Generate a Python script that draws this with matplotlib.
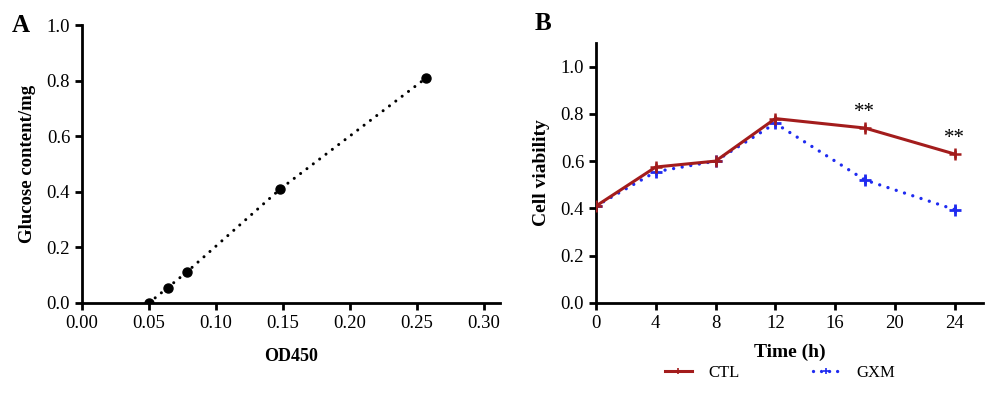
import numpy as np
import matplotlib
matplotlib.use('Agg')
import matplotlib.pyplot as plt
from matplotlib.lines import Line2D

plt.rcParams['font.family'] = ['Liberation Serif', 'DejaVu Serif']

# panel A data: standard curve
od450 = [0.050, 0.064, 0.078, 0.148, 0.257]
glucose = [0.0, 0.055, 0.11, 0.41, 0.81]

# panel B data: cell viability
hours = [0, 4, 8, 12, 18, 24]
ctl = [0.41, 0.575, 0.60, 0.78, 0.74, 0.63]
gxm = [0.41, 0.555, 0.60, 0.76, 0.52, 0.395]
ctl_err = [0.0, 0.015, 0.015, 0.015, 0.015, 0.015]
gxm_err = [0.0, 0.015, 0.01, 0.015, 0.015, 0.015]
star_hours = [18, 24]
star_vals = [0.74, 0.63]
xticks_b = [0, 4, 8, 12, 16, 20, 24]

red = '#a31c1c'
blue = '#1f2bf0'

fig = plt.figure(figsize=(10, 3.98), dpi=100)

# ---- panel A
ax1 = fig.add_axes([0.082, 0.239, 0.418, 0.698])
ax1.plot(od450, glucose, color='black', linestyle=(0, (0.01, 2.6)), linewidth=2.2,
         dash_capstyle='round')
ax1.plot(od450, glucose, color='black', linestyle='none', marker='o', markersize=6.5)
ax1.set_xlim(0, 0.312)
ax1.set_ylim(0, 1.0)
ax1.set_xticks([0.0, 0.05, 0.10, 0.15, 0.20, 0.25, 0.30])
ax1.set_xticklabels(['0.00', '0.05', '0.10', '0.15', '0.20', '0.25', '0.30'])
ax1.set_yticks([0.0, 0.2, 0.4, 0.6, 0.8, 1.0])
ax1.set_yticklabels(['0.0', '0.2', '0.4', '0.6', '0.8', '1.0'])
ax1.set_xlabel('OD450', fontsize=13, fontweight='bold', labelpad=12)
ax1.set_ylabel('Glucose content/mg', fontsize=13.5, fontweight='bold', labelpad=8)

# ---- panel B
ax2 = fig.add_axes([0.596, 0.239, 0.387, 0.653])
ax2.errorbar(hours, ctl, yerr=ctl_err, color=red, linewidth=2.2, marker='+',
             markersize=9, markeredgewidth=1.8, elinewidth=1.8, capsize=0,
             label='CTL', zorder=3)
ax2.errorbar(hours, gxm, yerr=gxm_err, color=blue, linestyle=(0, (0.01, 2.6)),
             linewidth=2.4, marker='+', markersize=9, markeredgewidth=2,
             elinewidth=2, capsize=0, dash_capstyle='round', label='GXM', zorder=2)
for h, v in zip(star_hours, star_vals):
    ax2.text(h, v + 0.025, '**', ha='center', va='bottom', fontsize=15)
ax2.set_xlim(0, 25.9)
ax2.set_ylim(0, 1.1)
ax2.set_xticks(xticks_b)
ax2.set_yticks([0.0, 0.2, 0.4, 0.6, 0.8, 1.0])
ax2.set_yticklabels(['0.0', '0.2', '0.4', '0.6', '0.8', '1.0'])
ax2.set_xlabel('Time (h)', fontsize=14, fontweight='bold', labelpad=9)
ax2.set_ylabel('Cell viability', fontsize=14, fontweight='bold', labelpad=8)

for ax in (ax1, ax2):
    ax.spines['top'].set_visible(False)
    ax.spines['right'].set_visible(False)
    ax.spines['left'].set_linewidth(2)
    ax.spines['bottom'].set_linewidth(2)
    ax.tick_params(width=2, length=5, labelsize=13.5)

handles = [
    Line2D([], [], color=red, linewidth=2.2, marker='+', markersize=4, markeredgewidth=1.2),
    Line2D([], [], color=blue, linewidth=2.4, linestyle=(0, (0.01, 2.4)),
           dash_capstyle='round', marker='+', markersize=4, markeredgewidth=1.2),
]
leg = fig.legend(handles=handles, labels=['CTL', 'GXM'], loc='center', ncol=2,
                 bbox_to_anchor=(0.780, 0.062), frameon=False, fontsize=12,
                 columnspacing=4.4, handlelength=1.6, handletextpad=1.0)

fig.text(0.012, 0.935, 'A', fontsize=18, fontweight='bold', va='center')
fig.text(0.535, 0.94, 'B', fontsize=18, fontweight='bold', va='center')

fig.savefig('out.png', dpi=100)
